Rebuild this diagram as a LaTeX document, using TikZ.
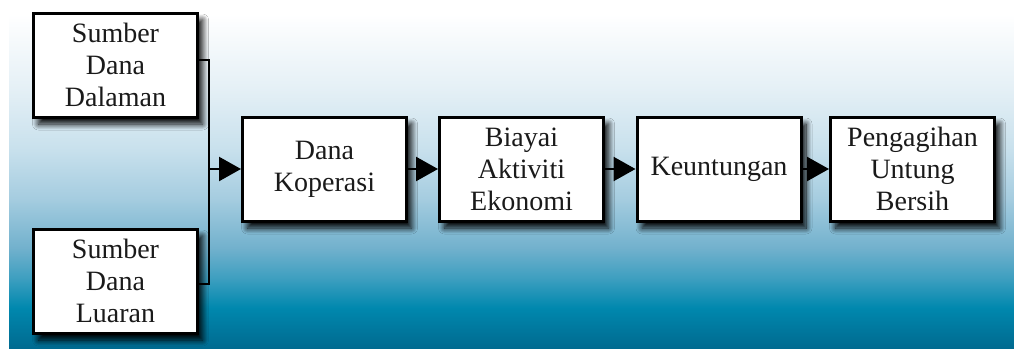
\documentclass[tikz,border=0pt]{standalone}
\usepackage{fontspec}
\setmainfont{Liberation Serif}
\usetikzlibrary{arrows.meta,shadows.blur}
\definecolor{g0}{HTML}{006A90}
\definecolor{g1}{HTML}{0088AE}
\definecolor{g2}{HTML}{3E9FC0}
\definecolor{g3}{HTML}{72B1CD}
\definecolor{g4}{HTML}{A6CDE0}
\definecolor{g5}{HTML}{C9E1ED}
\definecolor{g6}{HTML}{E5F0F6}
\definecolor{g7}{HTML}{FFFFFF}
\definecolor{txt}{HTML}{1A1A1A}
\pgfdeclareverticalshading{bgshade}{100bp}{%
  color(0bp)=(g0); color(25bp)=(g0); color(31bp)=(g1); color(35.5bp)=(g2);
  color(40bp)=(g3); color(47.5bp)=(g4); color(55bp)=(g5); color(64bp)=(g6);
  color(75bp)=(g7); color(100bp)=(g7)}
\tikzset{
  box/.style={draw=black, fill=white, line width=3pt, minimum width=164pt,
    minimum height=104pt, inner sep=0pt, align=center, text=txt,
    font=\fontsize{28}{32}\selectfont,
    blur shadow={shadow xshift=5pt, shadow yshift=-7pt, shadow blur radius=6pt,
      shadow blur steps=12, shadow opacity=100}},
  conn/.style={line width=2.4pt, draw=black},
  arr/.style={conn, -{Triangle[length=22pt,width=24pt]}}
}
\begin{document}
\begin{tikzpicture}[x=1pt,y=-1pt]
\useasboundingbox (0,0) rectangle (1014,348);
\shade[shading=bgshade] (9,14) rectangle (1014,348);
\node[box] (d1) at (115.5,65) {Sumber\\Dana\\Dalaman};
\node[box] (d2) at (115.5,281) {Sumber\\Dana\\Luaran};
\node[box] (k) at (324.5,169) {Dana\\Koperasi};
\node[box] (b) at (521.5,169) {Biayai\\Aktiviti\\Ekonomi};
\node[box] (u) at (719,169) {Keuntungan};
\node[box] (p) at (912.5,169) {Pengagihan\\Untung\\Bersih};
\coordinate (ja) at (209,60);
\coordinate (jb) at (209,284);
\coordinate (jm) at (209,169);
\draw[conn] (d1.east |- ja) -- (ja) -- (jb) -- (d2.east |- jb);
\draw[arr] (jm) -- (k.west);
\draw[arr] (k.east) -- (b.west);
\draw[arr] (b.east) -- (u.west);
\draw[arr] (u.east) -- (p.west);
\end{tikzpicture}
\end{document}
